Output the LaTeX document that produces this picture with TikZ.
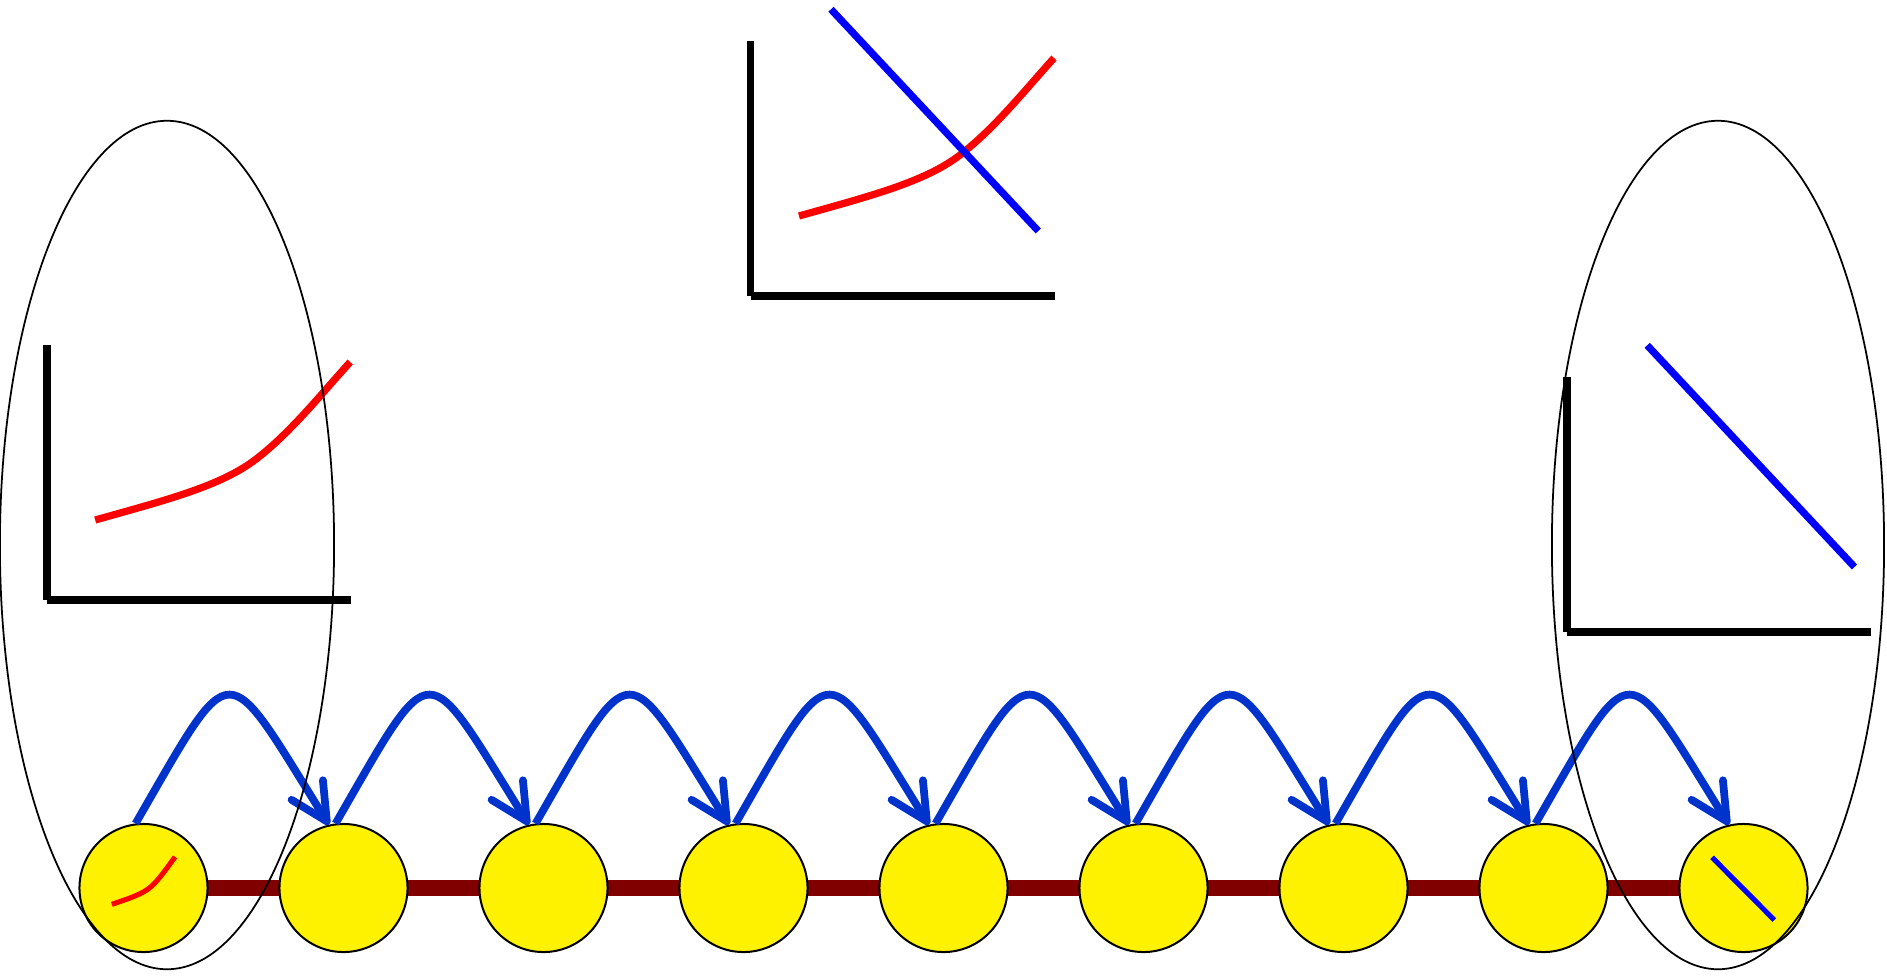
\documentclass[tikz,border=0pt]{standalone}
\usetikzlibrary{arrows.meta,backgrounds}
\definecolor{hopblue}{RGB}{0,51,204}
\definecolor{chainred}{RGB}{128,0,0}
\definecolor{plotred}{RGB}{255,0,0}
\definecolor{plotblue}{RGB}{0,0,255}
\begin{document}
\begin{tikzpicture}[x=0.01cm,y=0.01cm,
  axis/.style={black, line width=2.2pt, line cap=butt},
  redcurve/.style={plotred, line width=2.05pt},
  bluecurve/.style={plotblue, line width=2.05pt},
  minicurve/.style={line width=1.45pt},
  ball/.style={circle, draw=black, fill=yellow, line width=0.57pt, minimum size=1.28cm, inner sep=0pt},
  hop/.style={hopblue, line width=2.2pt, -{Straight Barb[length=10.5pt,width=10.5pt,round]}},
  chain/.style={chainred, line width=4.3pt},
  zoomring/.style={black, line width=0.5pt}
]
\useasboundingbox (0,0) rectangle (1887,-975);

% chain of balls
\foreach \i in {1,...,9} {
  \node[ball] (c\i) at ({143.5+200*(\i-1)},-888) {};
}
\begin{scope}[on background layer]
  \fill[white] (0,0) rectangle (1887,-975);
  \draw[chain] (c1.center) -- (c9.center);
\end{scope}

% hops
\foreach \i/\j in {1/2,2/3,3/4,4/5,5/6,6/7,7/8,8/9}
  \draw[hop] (c\i.97) .. controls +(60:2cm) and +(122:2cm) .. (c\j.103);

% mini graphs inside first and last ball
\begin{scope}[shift={(99.8,-928.3)}, xscale=0.248, yscale=0.3]
  \draw[plotred, minicurve] (48.5,80) .. controls (119.5,100) and (174.5,114) .. (209.5,141)
        .. controls (244.5,168) and (274.5,206) .. (303.5,238);
\end{scope}
\draw[plotblue, minicurve] (1712,-857.3) -- (1774.3,-920);

% left graph
\begin{scope}[shift={(46.7,-600)}]
  \draw[axis] (0,255) -- (0,0);
  \draw[axis] (0,0) -- (304,0);
  \draw[redcurve] (48.5,80) .. controls (119.5,100) and (174.5,114) .. (209.5,141)
        .. controls (244.5,168) and (274.5,206) .. (303.5,238);
\end{scope}

% middle graph
\begin{scope}[shift={(750.5,-296)}]
  \draw[axis] (0,255) -- (0,0);
  \draw[axis] (0,0) -- (304,0);
  \draw[redcurve] (48.5,80) .. controls (119.5,100) and (174.5,114) .. (209.5,141)
        .. controls (244.5,168) and (274.5,206) .. (303.5,238);
  \draw[bluecurve] (80.5,286.7) -- (287.8,65);
\end{scope}

% right graph
\begin{scope}[shift={(1566.7,-632)}]
  \draw[axis] (0,255) -- (0,0);
  \draw[axis] (0,0) -- (304,0);
  \draw[bluecurve] (80.5,286.7) -- (287.8,65);
\end{scope}

% zoom ellipses
\draw[zoomring] (167,-545) ellipse [x radius=1.67cm, y radius=4.24cm];
\draw[zoomring] (1718,-545) ellipse [x radius=1.66cm, y radius=4.24cm];
\end{tikzpicture}
\end{document}
